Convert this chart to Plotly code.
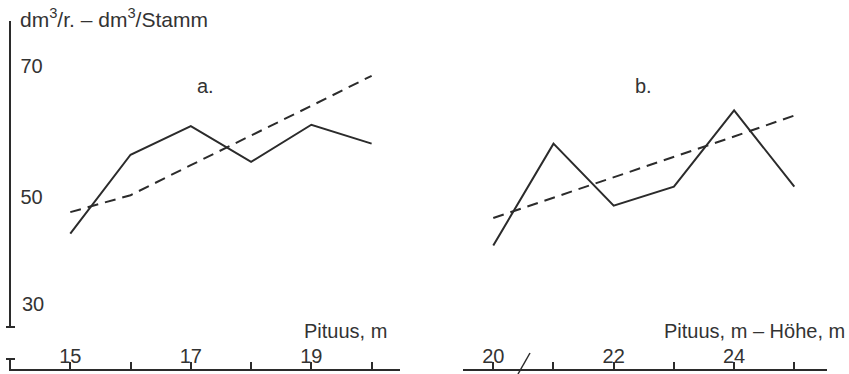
import plotly.graph_objects as go

# ---- data ----
heights_a = [15, 16, 17, 18, 19, 20]
vol_a_obs = [44.3, 56.4, 60.8, 55.3, 61.0, 58.1]
vol_a_trend = [47.6, 50.2, 54.8, 59.3, 63.9, 68.5]
ticktext_a = ["15", "", "17", "", "19", ""]

heights_b = [20, 21, 22, 23, 24, 25]
vol_b_obs = [42.5, 58.1, 48.6, 51.5, 63.2, 51.5]
vol_b_trend = [46.7, 49.8, 52.9, 56.1, 59.2, 62.4]
ticktext_b = ["20", "", "22", "", "24", ""]

y_ticks = [50, 70]

W, H = 849, 374
def px(x):
    return x / W
def py(y):
    return 1 - y / H

INK = "#2b2b2b"
TXT = "#333333"
FONT = dict(family="Liberation Sans, Arial, sans-serif", size=20, color=TXT)

fig = go.Figure()
solid = dict(color=INK, width=2)
dashed = dict(color=INK, width=2, dash="11px,7px")

fig.add_trace(go.Scatter(x=heights_a, y=vol_a_obs, mode="lines", line=solid,
                         xaxis="x", yaxis="y", showlegend=False))
fig.add_trace(go.Scatter(x=heights_a, y=vol_a_trend, mode="lines", line=dashed,
                         xaxis="x", yaxis="y", showlegend=False))
fig.add_trace(go.Scatter(x=heights_b, y=vol_b_obs, mode="lines", line=solid,
                         xaxis="x2", yaxis="y", showlegend=False))
fig.add_trace(go.Scatter(x=heights_b, y=vol_b_trend, mode="lines", line=dashed,
                         xaxis="x2", yaxis="y", showlegend=False))

xcommon = dict(anchor="free", position=py(370), side="top", showline=True,
               linewidth=2, linecolor=INK, ticks="outside", ticklen=7,
               tickwidth=2, tickcolor=INK, showgrid=False, zeroline=False,
               ticklabelstandoff=-9,
               tickfont=FONT, fixedrange=True, automargin=False)

fig.update_layout(
    width=W, height=H,
    margin=dict(l=0, r=0, t=0, b=0, autoexpand=False),
    paper_bgcolor="white", plot_bgcolor="white",
    font=FONT,
    xaxis=dict(domain=[px(9), px(400)], range=[13.983, 20.471],
               tickvals=heights_a, ticktext=ticktext_a, **xcommon),
    xaxis2=dict(domain=[px(463), px(827)], range=[19.497, 25.543],
                tickvals=heights_b, ticktext=ticktext_b, **xcommon),
    yaxis=dict(domain=[py(327), py(21)], range=[30, 30 + (327 - 21) / 6.525],
               anchor="free", position=px(9.5), showline=True, linewidth=2,
               linecolor=INK, ticks="", tickvals=y_ticks,
               ticklabelposition="inside", ticklabelstandoff=11,
               showgrid=False, zeroline=False,
               tickfont=FONT, fixedrange=True, automargin=False),
)

line_s = dict(color=INK, width=2)
shapes = [
    dict(type="line", xref="paper", yref="paper", x0=px(6), x1=px(15), y0=py(327), y1=py(327), line=line_s),
    dict(type="line", xref="paper", yref="paper", x0=px(10), x1=px(10), y0=py(359), y1=py(370), line=line_s),
    dict(type="line", xref="paper", yref="paper", x0=px(6), x1=px(15), y0=py(359), y1=py(359), line=line_s),
    dict(type="line", xref="paper", yref="paper", x0=px(518), x1=px(530), y0=py(374), y1=py(353), line=dict(color=INK, width=1.5)),
]
fig.update_layout(shapes=shapes)

ann = [
    dict(text="dm<sup>3</sup>/r. – dm<sup>3</sup>/Stamm", x=px(18), y=py(18), xanchor="left", yanchor="middle", size=21),
    dict(text="30", x=px(20), y=py(303.5), xanchor="left", yanchor="middle"),
    dict(text="a.", x=px(205.5), y=py(86), xanchor="center", yanchor="middle"),
    dict(text="b.", x=px(643), y=py(86), xanchor="center", yanchor="middle"),
    dict(text="Pituus, m", x=px(302), y=py(331), xanchor="left", yanchor="middle"),
    dict(text="Pituus, m – Höhe, m", x=px(662), y=py(331), xanchor="left", yanchor="middle"),
]
for a in ann:
    sz = a.pop("size", FONT["size"])
    a.update(xref="paper", yref="paper", showarrow=False,
             font=dict(family=FONT["family"], size=sz, color=TXT))
fig.update_layout(annotations=ann)

fig.write_html(
    "out.html",
    config={"displayModeBar": False, "staticPlot": True},
    post_script="document.body.style.margin='0';document.body.style.padding='0';document.body.style.overflow='hidden';",
)
